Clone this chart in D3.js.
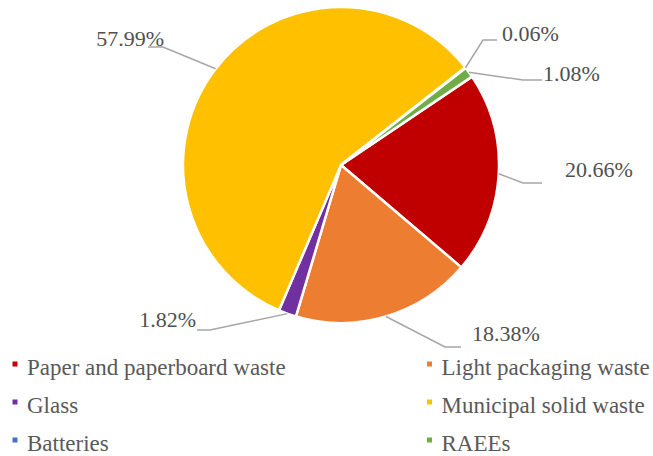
<!DOCTYPE html>
<html>
<head>
<meta charset="utf-8">
<script src="https://cdn.jsdelivr.net/npm/d3@7"></script>
</head>
<body style="margin:0">
<svg id="chart"></svg>
<script>
// data
const categories = ['Paper and paperboard waste', 'Light packaging waste', 'Glass',
                    'Municipal solid waste', 'Batteries', 'RAEEs'];
const shares = [20.66, 18.38, 1.82, 57.99, 0.06, 1.08];
const sliceColors = ['#C00000', '#ED7D31', '#7030A0', '#FFC000', '#4472C4', '#70AD47'];

// label layout: text x / baseline, elbow and end of the leader line
const labelLayout = [
    { tx: 565, ty: 177, anchor: 'start', elbow: [523, 183], end: [542, 183] },
    { tx: 472, ty: 341, anchor: 'start', elbow: [445, 347], end: [461, 347] },
    { tx: 196, ty: 327, anchor: 'end',   elbow: [210, 330], end: [197, 330] },
    { tx: 164, ty: 46,  anchor: 'end',   elbow: [163, 47],  end: [148, 47] },
    { tx: 502, ty: 41,  anchor: 'start', elbow: [483, 40],  end: [497, 40] },
    { tx: 543, ty: 81,  anchor: 'start', elbow: [523, 80],  end: [542, 80] }
];

const width = 653;
const height = 456;
const cx = 341, cy = 165, radius = 158;
const startAngle = 56 * Math.PI / 180;
const serif = "'Liberation Serif'";

let svg = d3.select('#chart').attr('width', width).attr('height', height);

let pie = d3.pie()
    .sort(null)
    .value(d => d)
    .startAngle(startAngle)
    .endAngle(startAngle + 2 * Math.PI);
let arcs = pie(shares);

let arc = d3.arc().innerRadius(0).outerRadius(radius);

let g = svg.append('g').attr('transform', `translate(${cx}, ${cy})`);
g.selectAll('path')
    .data(arcs)
    .enter()
    .append('path')
    .attr('d', arc)
    .attr('fill', (d, i) => sliceColors[i])
    .attr('stroke', '#fff')
    .attr('stroke-width', 2.5)
    .attr('stroke-linejoin', 'round');

// leader lines + percent labels
arcs.forEach((d, i) => {
    let mid = (d.startAngle + d.endAngle) / 2;
    let px = cx + radius * Math.sin(mid);
    let py = cy - radius * Math.cos(mid);
    let L = labelLayout[i];
    svg.append('polyline')
        .attr('points', `${px},${py} ${L.elbow[0]},${L.elbow[1]} ${L.end[0]},${L.end[1]}`)
        .attr('fill', 'none')
        .attr('stroke', '#A6A6A6')
        .attr('stroke-width', 1.5);
    svg.append('text')
        .attr('x', L.tx)
        .attr('y', L.ty)
        .attr('text-anchor', L.anchor)
        .style('font-family', serif)
        .style('font-size', '22px')
        .style('fill', '#505050')
        .text(shares[i].toFixed(2) + '%');
});

// legend, two columns
let legend = svg.append('g');
categories.forEach((name, i) => {
    let col = i % 2;
    let row = Math.floor(i / 2);
    let x = col === 0 ? 12.5 : 427;
    let y = 375 + row * 38;
    legend.append('rect')
        .attr('x', x)
        .attr('y', y - 13.5)
        .attr('width', 5)
        .attr('height', 5)
        .attr('fill', sliceColors[i]);
    legend.append('text')
        .attr('x', x + 14.5)
        .attr('y', y)
        .style('font-family', serif)
        .style('font-size', '23px')
        .style('fill', '#595959')
        .text(name);
});
</script>
</body>
</html>
